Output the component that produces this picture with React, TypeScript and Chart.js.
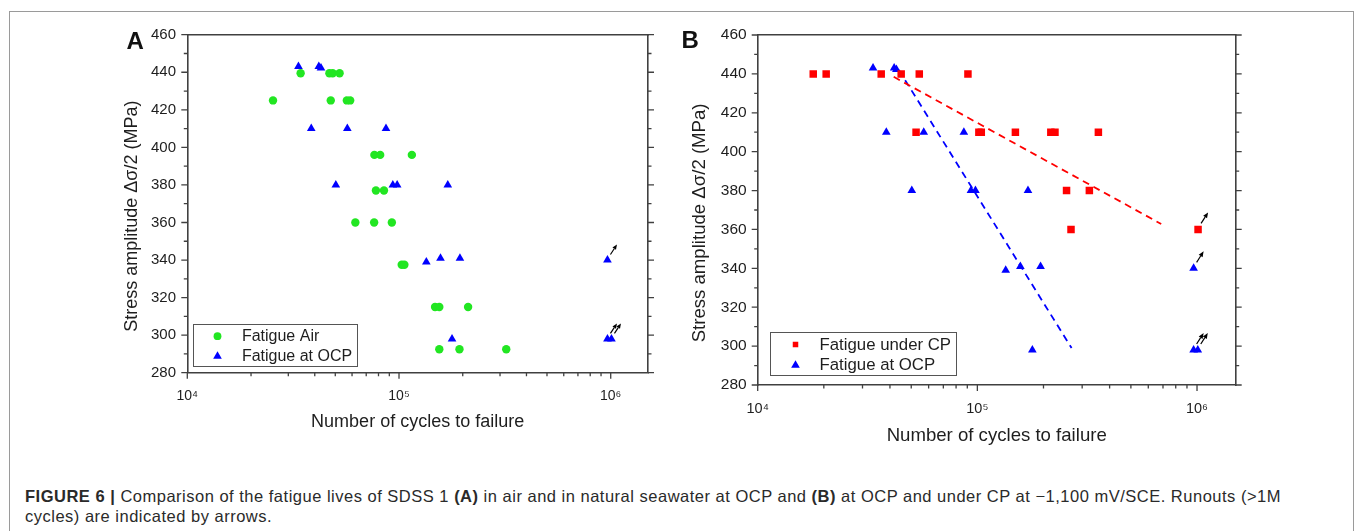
import React, { useEffect, useRef } from 'react';
import { Chart, registerables } from 'chart.js';

Chart.register(...registerables);

// ---------------- Data ----------------
// Panel A – fatigue in air (cycles to failure, stress amplitude MPa)
const airCycles = [25400, 34300, 46900, 48600, 52400, 47600, 56700, 58800, 76500, 81500, 115000, 77800, 84900, 62200, 76300, 92500, 103000, 106000, 148000, 155000, 212000, 155000, 193000, 321000];
const airStress = [425, 439.5, 439.5, 439.5, 439.5, 425, 425, 425, 396, 396, 396, 377, 377, 360, 360, 360, 337.5, 337.5, 315, 315, 315, 292.5, 292.5, 292.5];

// Fatigue at OCP (shown in A and B)
const ocpCycles = [33500, 41800, 42800, 38500, 57000, 86800, 50300, 93500, 98000, 170000, 134600, 157000, 194000, 178000, 965000, 965000, 1008000];
const ocpStress = [443, 443, 442.3, 410, 410, 410, 380, 380, 380, 380, 339, 341, 341, 298, 340, 298, 298];

// Panel B – fatigue under CP
const cpCycles = [17900, 20500, 36500, 45000, 54400, 90600, 52600, 101600, 104200, 149000, 216000, 225600, 355600, 254700, 323500, 266900, 1011000];
const cpStress = [440, 440, 440, 440, 440, 440, 410, 410, 410, 410, 410, 410, 410, 380, 380, 360, 360];

// Dashed trend lines (panel B)
const cpTrendCycles = [41600, 687000];
const cpTrendStress = [438.5, 362.8];
const ocpTrendCycles = [43900, 268500];
const ocpTrendStress = [442, 299];

// Runouts (>1M cycles), marked with arrows
const ocpRunoutCycles = [965000, 965000, 1008000];
const ocpRunoutStress = [340, 298, 298];
const cpRunoutCycles = [1011000];
const cpRunoutStress = [360];

// Axes
const yMin = 280;
const yMax = 460;
const yStep = 20;
const yMinorStep = 10;
const xMin = 1e4;
const xMax = 1.5e6;
const xTickValues = [1e4, 1e5, 1e6];
const xTickLabels = ['10\u2074', '10\u2075', '10\u2076'];

const seriesLabels = {
  air: 'Fatigue Air',
  ocp: 'Fatigue at OCP',
  cp: 'Fatigue under CP',
};

// ---------------- Style ----------------
const FONT = '"Liberation Sans", Arial, Helvetica, sans-serif';
const AXIS = '#404040';
const TEXT = '#1e1e1e';
const GREEN = '#22e622';
const BLUE = '#0000ff';
const RED = '#ff0000';

type Pt = { x: number; y: number };
const toPts = (xs: number[], ys: number[]): Pt[] => xs.map((x, i) => ({ x, y: ys[i] }));

function drawMarker(ctx: CanvasRenderingContext2D, style: string, x: number, y: number, r: number) {
  ctx.beginPath();
  if (style === 'circle') {
    ctx.arc(x, y, r, 0, Math.PI * 2);
  } else if (style === 'triangle') {
    let a = 0;
    ctx.moveTo(x + Math.sin(a) * r, y - Math.cos(a) * r);
    a += (2 * Math.PI) / 3;
    ctx.lineTo(x + Math.sin(a) * r, y - Math.cos(a) * r);
    a += (2 * Math.PI) / 3;
    ctx.lineTo(x + Math.sin(a) * r, y - Math.cos(a) * r);
    ctx.closePath();
  } else {
    const s = r * Math.SQRT1_2;
    ctx.rect(x - s, y - s, 2 * s, 2 * s);
  }
  ctx.fill();
}

const tickMarksPlugin = {
  id: 'tickMarks',
  afterDraw(chart: any, _a: any, opts: any) {
    const { ctx, chartArea: ca } = chart;
    const xs = chart.scales.x;
    const ys = chart.scales.y;
    ctx.save();
    ctx.strokeStyle = AXIS;
    ctx.lineWidth = 1.3;
    ctx.beginPath();
    for (let v = ys.min; v <= ys.max + 1e-6; v += yMinorStep) {
      const p = ys.getPixelForValue(v);
      const k = (v - ys.min) / yStep;
      const major = Math.abs(k - Math.round(k)) < 1e-6;
      const len = major ? opts.major : opts.minor;
      ctx.moveTo(ca.left, p);
      ctx.lineTo(ca.left - len, p);
      ctx.moveTo(ca.right, p);
      ctx.lineTo(ca.right + len, p);
    }
    const e0 = Math.floor(Math.log10(xs.min));
    const e1 = Math.ceil(Math.log10(xs.max));
    for (let e = e0; e <= e1; e++) {
      for (let m = 1; m <= 9; m++) {
        const v = m * Math.pow(10, e);
        if (v < xs.min * 0.999 || v > xs.max * 1.001) continue;
        const p = xs.getPixelForValue(v);
        const len = m === 1 ? opts.major : opts.minor;
        ctx.moveTo(p, ca.bottom);
        ctx.lineTo(p, ca.bottom + len);
      }
    }
    ctx.stroke();
    ctx.restore();
  },
};

const runoutPlugin = {
  id: 'runouts',
  afterDatasetsDraw(chart: any, _a: any, opts: any) {
    const { ctx } = chart;
    const xs = chart.scales.x;
    const ys = chart.scales.y;
    ctx.save();
    ctx.strokeStyle = '#000';
    ctx.fillStyle = '#000';
    ctx.lineWidth = 1.2;
    (opts.points || []).forEach((pt: Pt) => {
      const px = xs.getPixelForValue(pt.x);
      const py = ys.getPixelForValue(pt.y);
      const x0 = px + opts.dx0;
      const y0 = py + opts.dy0;
      const x1 = px + opts.dx1;
      const y1 = py + opts.dy1;
      const ang = Math.atan2(y1 - y0, x1 - x0);
      const c = Math.cos(ang);
      const s = Math.sin(ang);
      const hl = opts.head;
      const hw = opts.head * 0.42;
      const bx = x1 - hl * c;
      const by = y1 - hl * s;
      ctx.beginPath();
      ctx.moveTo(x0, y0);
      ctx.lineTo(bx, by);
      ctx.stroke();
      ctx.beginPath();
      ctx.moveTo(x1, y1);
      ctx.lineTo(bx - hw * s, by + hw * c);
      ctx.lineTo(bx + hw * s, by - hw * c);
      ctx.closePath();
      ctx.fill();
    });
    ctx.restore();
  },
};

const boxLegendPlugin = {
  id: 'boxLegend',
  afterDraw(chart: any, _a: any, opts: any) {
    const { ctx, chartArea: ca } = chart;
    const items = chart.data.datasets.filter((d: any) => d.inLegend);
    const left = Math.round(ca.left + opts.left) + 0.5;
    const top = Math.round(ca.bottom - opts.bottom - opts.height) + 0.5;
    ctx.save();
    ctx.strokeStyle = '#555';
    ctx.lineWidth = 1;
    ctx.strokeRect(left, top, Math.round(opts.width), Math.round(opts.height));
    ctx.font = `${opts.fontSize}px ${FONT}`;
    ctx.textBaseline = 'middle';
    ctx.textAlign = 'left';
    items.forEach((d: any, i: number) => {
      const cy = top + opts.rows[i];
      ctx.fillStyle = d.backgroundColor;
      drawMarker(ctx, d.pointStyle, left + opts.markerX, cy, d.legendRadius);
      ctx.fillStyle = TEXT;
      ctx.fillText(d.label, left + opts.textX, cy + 0.5);
    });
    ctx.restore();
  },
};

type PanelSpec = {
  left: number;
  top: number;
  width: number;
  height: number;
  area: { left: number; right: number; top: number; bottom: number };
  yTickPad: number;
  yTitlePad: number;
  xTickPad: number;
  xTitlePad: number;
  yTickFont: number;
  xTickFont: number;
  titleFont: number;
  legend: any;
  arrows: any;
  datasets: any[];
  runouts: Pt[];
};

function buildConfig(spec: PanelSpec): any {
  const border = { display: true, color: AXIS, width: 1.6 };
  const noGrid = { display: true, drawOnChartArea: false, drawTicks: false };
  // invisible tick marks used only as label spacing (visible ticks are drawn by tickMarksPlugin)
  const spacer = (len: number) => ({
    display: true,
    drawOnChartArea: false,
    drawTicks: true,
    tickLength: len,
    tickColor: 'rgba(0,0,0,0)',
  });
  return {
    type: 'scatter',
    data: { datasets: spec.datasets },
    options: {
      responsive: false,
      animation: false,
      events: [],
      layout: { padding: 0 },
      plugins: {
        legend: { display: false },
        tooltip: { enabled: false },
        tickMarks: { major: 6, minor: 3.5 },
        runouts: { ...spec.arrows, points: spec.runouts },
        boxLegend: spec.legend,
      },
      scales: {
        x: {
          type: 'logarithmic',
          position: 'bottom',
          min: xMin,
          max: xMax,
          border,
          grid: spacer(spec.xTickPad),
          afterFit: (s: any) => {
            s.height = spec.area.bottom;
          },
          ticks: {
            autoSkip: false,
            maxRotation: 0,
            minRotation: 0,
            padding: 0,
            color: TEXT,
            font: { size: spec.xTickFont, family: FONT },
            callback: (value: number) => {
              const i = xTickValues.findIndex((t) => Math.abs(Math.log10(t) - Math.log10(value)) < 1e-6);
              return i >= 0 ? xTickLabels[i] : '';
            },
          },
          title: {
            display: true,
            text: 'Number of cycles to failure',
            color: TEXT,
            font: { size: spec.titleFont, family: FONT },
            padding: { top: 0, bottom: spec.xTitlePad },
          },
        },
        x2: {
          type: 'linear',
          position: 'top',
          min: 0,
          max: 1,
          border,
          grid: noGrid,
          ticks: { display: false },
          afterFit: (s: any) => {
            s.height = spec.area.top;
          },
        },
        y: {
          type: 'linear',
          position: 'left',
          min: yMin,
          max: yMax,
          border,
          grid: spacer(spec.yTickPad),
          afterFit: (s: any) => {
            s.width = spec.area.left;
          },
          ticks: {
            stepSize: yStep,
            padding: 0,
            color: TEXT,
            font: { size: spec.yTickFont, family: FONT },
          },
          title: {
            display: true,
            text: 'Stress amplitude \u0394\u03c3/2 (MPa)' + '\u00a0'.repeat(5),
            color: TEXT,
            font: { size: spec.titleFont, family: FONT },
            padding: { top: spec.yTitlePad, bottom: 0 },
          },
        },
        y2: {
          type: 'linear',
          position: 'right',
          min: yMin,
          max: yMax,
          border,
          grid: noGrid,
          ticks: { display: false },
          afterFit: (s: any) => {
            s.width = spec.area.right;
          },
        },
      },
    },
    plugins: [tickMarksPlugin, runoutPlugin, boxLegendPlugin],
  };
}

const scatterSet = (label: string, pts: Pt[], style: string, color: string, r: number, legendR: number) => ({
  label,
  data: pts,
  pointStyle: style,
  backgroundColor: color,
  borderColor: color,
  pointRadius: r,
  pointBorderWidth: 0,
  inLegend: true,
  legendRadius: legendR,
});

const trendSet = (pts: Pt[], color: string) => ({
  label: '',
  data: pts,
  showLine: true,
  borderColor: color,
  backgroundColor: color,
  borderWidth: 1.8,
  borderDash: [7, 5],
  pointRadius: 0,
  inLegend: false,
});

const panelA: PanelSpec = {
  left: 100,
  top: 20,
  width: 560,
  height: 420,
  area: { left: 87.3, right: 12, top: 14.7, bottom: 67.3 },
  yTickPad: 11.3,
  yTitlePad: 21.2,
  xTickPad: 15,
  xTitlePad: 6.9,
  yTickFont: 15,
  xTickFont: 14,
  titleFont: 18,
  legend: { left: 6, bottom: 6.7, width: 164.4, height: 41.7, markerX: 24, textX: 48.4, rows: [11.7, 31.7], fontSize: 16 },
  arrows: { dx0: 3, dy0: -5.5, dx1: 9.5, dy1: -15.5, head: 5 },
  datasets: [
    scatterSet(seriesLabels.air, toPts(airCycles, airStress), 'circle', GREEN, 4.2, 3.9),
    scatterSet(seriesLabels.ocp, toPts(ocpCycles, ocpStress), 'triangle', BLUE, 5, 5),
  ],
  runouts: toPts(ocpRunoutCycles, ocpRunoutStress),
};

const panelB: PanelSpec = {
  left: 660,
  top: 20,
  width: 600,
  height: 430,
  area: { left: 97.7, right: 24.3, top: 15, bottom: 65 },
  yTickPad: 11,
  yTitlePad: 28.8,
  xTickPad: 15,
  xTitlePad: 2.5,
  yTickFont: 15.5,
  xTickFont: 14.5,
  titleFont: 18.6,
  legend: { left: 12.3, bottom: 9.3, width: 185.7, height: 43.4, markerX: 25, textX: 49, rows: [12, 32.7], fontSize: 16.8 },
  arrows: { dx0: 3, dy0: -6, dx1: 10, dy1: -17, head: 5.5 },
  datasets: [
    scatterSet(seriesLabels.cp, toPts(cpCycles, cpStress), 'rect', RED, 5.3, 3.9),
    scatterSet(seriesLabels.ocp, toPts(ocpCycles, ocpStress), 'triangle', BLUE, 5, 5),
    trendSet(toPts(cpTrendCycles, cpTrendStress), RED),
    trendSet(toPts(ocpTrendCycles, ocpTrendStress), BLUE),
  ],
  runouts: [...toPts(cpRunoutCycles, cpRunoutStress), ...toPts(ocpRunoutCycles, ocpRunoutStress)],
};

function Panel({ spec }: { spec: PanelSpec }) {
  const ref = useRef<HTMLCanvasElement | null>(null);
  useEffect(() => {
    if (!ref.current) return;
    const chart = new Chart(ref.current, buildConfig(spec));
    return () => chart.destroy();
  }, [spec]);
  return (
    <div style={{ position: 'absolute', left: spec.left, top: spec.top, width: spec.width, height: spec.height }}>
      <canvas ref={ref} width={spec.width} height={spec.height} style={{ width: spec.width, height: spec.height, display: 'block' }} />
    </div>
  );
}

export default function App() {
  const letter: React.CSSProperties = {
    position: 'absolute',
    fontFamily: FONT,
    fontWeight: 'bold',
    fontSize: 24,
    lineHeight: '24px',
    color: '#111',
  };
  return (
    <div style={{ position: 'fixed', left: 0, top: 0, width: 1355, height: 531, background: '#fff', overflow: 'hidden' }}>
      <div style={{ position: 'absolute', left: 9, top: 11, width: 1343, height: 560, border: '1px solid #9a9a9a' }} />
      <Panel spec={panelA} />
      <Panel spec={panelB} />
      <div style={{ ...letter, left: 126.5, top: 29.4 }}>A</div>
      <div style={{ ...letter, left: 681.5, top: 28.4 }}>B</div>
      <div
        style={{
          position: 'absolute',
          left: 25,
          top: 486,
          fontFamily: FONT,
          fontSize: 16.5,
          letterSpacing: '0.5px',
          lineHeight: '20px',
          color: '#2a2a2a',
          whiteSpace: 'nowrap',
        }}
      >
        <b>FIGURE 6 |</b> Comparison of the fatigue lives of SDSS 1 <b>(A)</b> in air and in natural seawater at OCP and{' '}
        <b>(B)</b> at OCP and under CP at −1,100 mV/SCE. Runouts (&gt;1M
        <br />
        cycles) are indicated by arrows.
      </div>
    </div>
  );
}
